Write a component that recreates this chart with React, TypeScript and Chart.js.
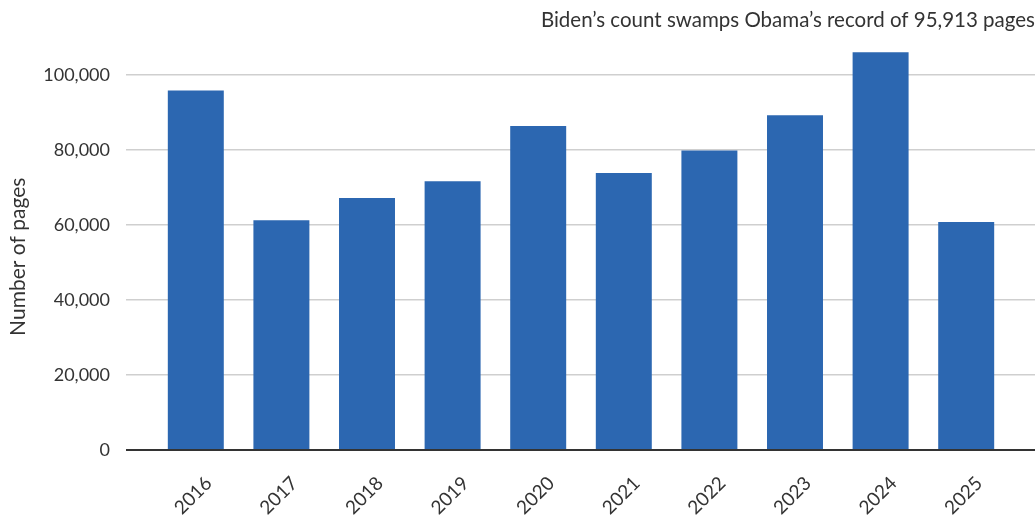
import React, { useEffect, useRef } from "react";
import { Chart, registerables } from "chart.js";

Chart.register(...registerables);

const years = ["2016", "2017", "2018", "2019", "2020", "2021", "2022", "2023", "2024", "2025"];
const pages = [95913, 61300, 67200, 71700, 86400, 73900, 79900, 89300, 106100, 60800];
const yTicks = [0, 20000, 40000, 60000, 80000, 100000];
const titleText = "Biden\u2019s count swamps Obama\u2019s record of 95,913 pages";
const yTitle = "Number of pages";

const FONT = "Lato, 'Noto Sans', sans-serif";
const TEXT = "#333333";
const GRID = "#cfcfcf";
const BAR = "#2c67b1";

const yTitlePlugin = {
  id: "yTitleText",
  afterDraw(chart: any) {
    const ctx = chart.ctx;
    const area = chart.chartArea;
    ctx.save();
    ctx.translate(18, (area.top + area.bottom) / 2 + 13);
    ctx.rotate(-Math.PI / 2);
    ctx.fillStyle = TEXT;
    ctx.font = `21px ${FONT}`;
    ctx.textAlign = "center";
    ctx.textBaseline = "middle";
    ctx.fillText(yTitle, 0, 0);
    ctx.restore();
  },
};

export default function App() {
  const ref = useRef<HTMLCanvasElement>(null);
  useEffect(() => {
    document.body.style.margin = "0";
    const gridColor = (ctx: any) => (ctx.tick && ctx.tick.value === 0 ? TEXT : GRID);
    const gridWidth = (ctx: any) => (ctx.tick && ctx.tick.value === 0 ? 2 : 1.5);
    const chart = new Chart(ref.current!, {
      type: "bar",
      data: {
        labels: years,
        datasets: [
          {
            data: pages,
            backgroundColor: BAR,
            categoryPercentage: 1,
            barPercentage: 0.654,
            yAxisID: "y",
          },
        ],
      },
      plugins: [yTitlePlugin],
      options: {
        responsive: false,
        animation: false,
        layout: { padding: 0 },
        plugins: {
          legend: { display: false },
          tooltip: { enabled: false },
          title: {
            display: true,
            text: titleText,
            align: "end",
            color: TEXT,
            font: { family: FONT, size: 20.5, weight: "normal", lineHeight: 1.2 },
            padding: { top: 8, bottom: 5 },
          },
        },
        scales: {
          x: {
            z: 1,
            grid: { display: false, drawTicks: false },
            border: { display: true, color: TEXT, width: 2 },
            ticks: {
              minRotation: 45,
              maxRotation: 45,
              labelOffset: 13,
              padding: 22,
              color: TEXT,
              font: { family: FONT, size: 19 },
            },
            afterFit: (s: any) => {
              s.height = 66;
            },
          },
          y: {
            position: "left",
            min: 0,
            max: 110000,
            border: { display: false },
            grid: { color: gridColor, lineWidth: gridWidth, tickLength: 27, drawTicks: true },
            afterBuildTicks: (s: any) => {
              s.ticks = yTicks.map((v) => ({ value: v }));
            },
            ticks: {
              padding: 16,
              color: TEXT,
              font: { family: FONT, size: 18 },
              callback: (v: any) => Number(v).toLocaleString("en-US"),
            },
            afterFit: (s: any) => {
              s.width = 153;
            },
          },
          y2: {
            position: "right",
            min: 0,
            max: 110000,
            border: { display: false },
            grid: { color: gridColor, lineWidth: gridWidth, tickLength: 26, drawTicks: true, drawOnChartArea: false },
            afterBuildTicks: (s: any) => {
              s.ticks = yTicks.map((v) => ({ value: v }));
            },
            ticks: { display: false },
            afterFit: (s: any) => {
              s.width = 26;
            },
          },
        },
      },
    });
    return () => chart.destroy();
  }, []);
  return (
    <div style={{ width: 1035, height: 516 }}>
      <canvas ref={ref} width={1035} height={516} style={{ display: "block" }} />
    </div>
  );
}
